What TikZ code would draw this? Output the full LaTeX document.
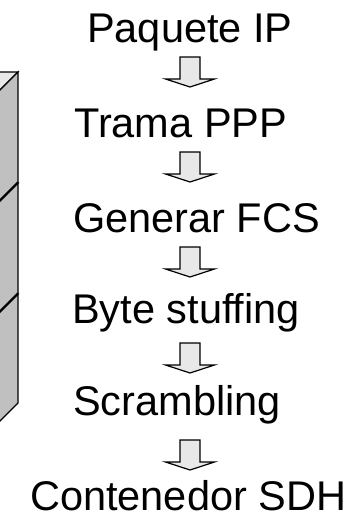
\documentclass[tikz,border=0pt]{standalone}
\usepackage{fontspec}
\setmainfont{Liberation Sans}
\definecolor{arrowgray}{HTML}{E8E8E8}
\definecolor{sidegray}{HTML}{C0C0C0}
\definecolor{topgray}{HTML}{E8E8E8}
\newcommand\stackbox[2]{%
  \filldraw[boxline, fill=topgray] (18,#1) -- (-12,#1+30) -- (-72,#1+30) -- (-42,#1) -- cycle;
  \filldraw[boxline, fill=sidegray] (18,#1) -- (18,#2) -- (-12,#2+30) -- (-12,#1+30) -- cycle;
}
\begin{document}
\begin{tikzpicture}[x=1pt,y=-1pt,
  lbl/.style={anchor=base west, inner sep=0pt, font=\fontsize{41.5}{48}\selectfont},
  arr/.style={draw=black, line width=1.2pt, fill=arrowgray, line join=miter},
  boxline/.style={draw=black, line width=1.3pt, line join=miter},
  downarrow/.pic={\path[arr] (-10,0) -- (10,0) -- (10,22) -- (24.5,22) -- (0,30) -- (-24.5,22) -- (-10,22) -- cycle;}]
\useasboundingbox (0,0) rectangle (360,517);
\begin{scope}
  \clip (0,0) rectangle (360,517);
  \stackbox{294.3}{403}
  \stackbox{183.3}{292.7}
  \stackbox{72}{181.7}
\end{scope}
\node[lbl] (t1) at (87,42.7) {Paquete IP};
\node[lbl] (t2) at (74,137) {Trama PPP};
\node[lbl] (t3) at (73,232) {Generar FCS};
\node[lbl] (t4) at (72,323) {Byte stuffing};
\node[lbl] (t5) at (73,415) {Scrambling};
\node[lbl] (t6) at (30,510) {Contenedor SDH};
\pic (a1) at (190,57) {downarrow};
\pic (a2) at (190,152) {downarrow};
\pic (a3) at (190,247) {downarrow};
\pic (a4) at (190,343) {downarrow};
\pic (a5) at (190,440) {downarrow};
\end{tikzpicture}
\end{document}
